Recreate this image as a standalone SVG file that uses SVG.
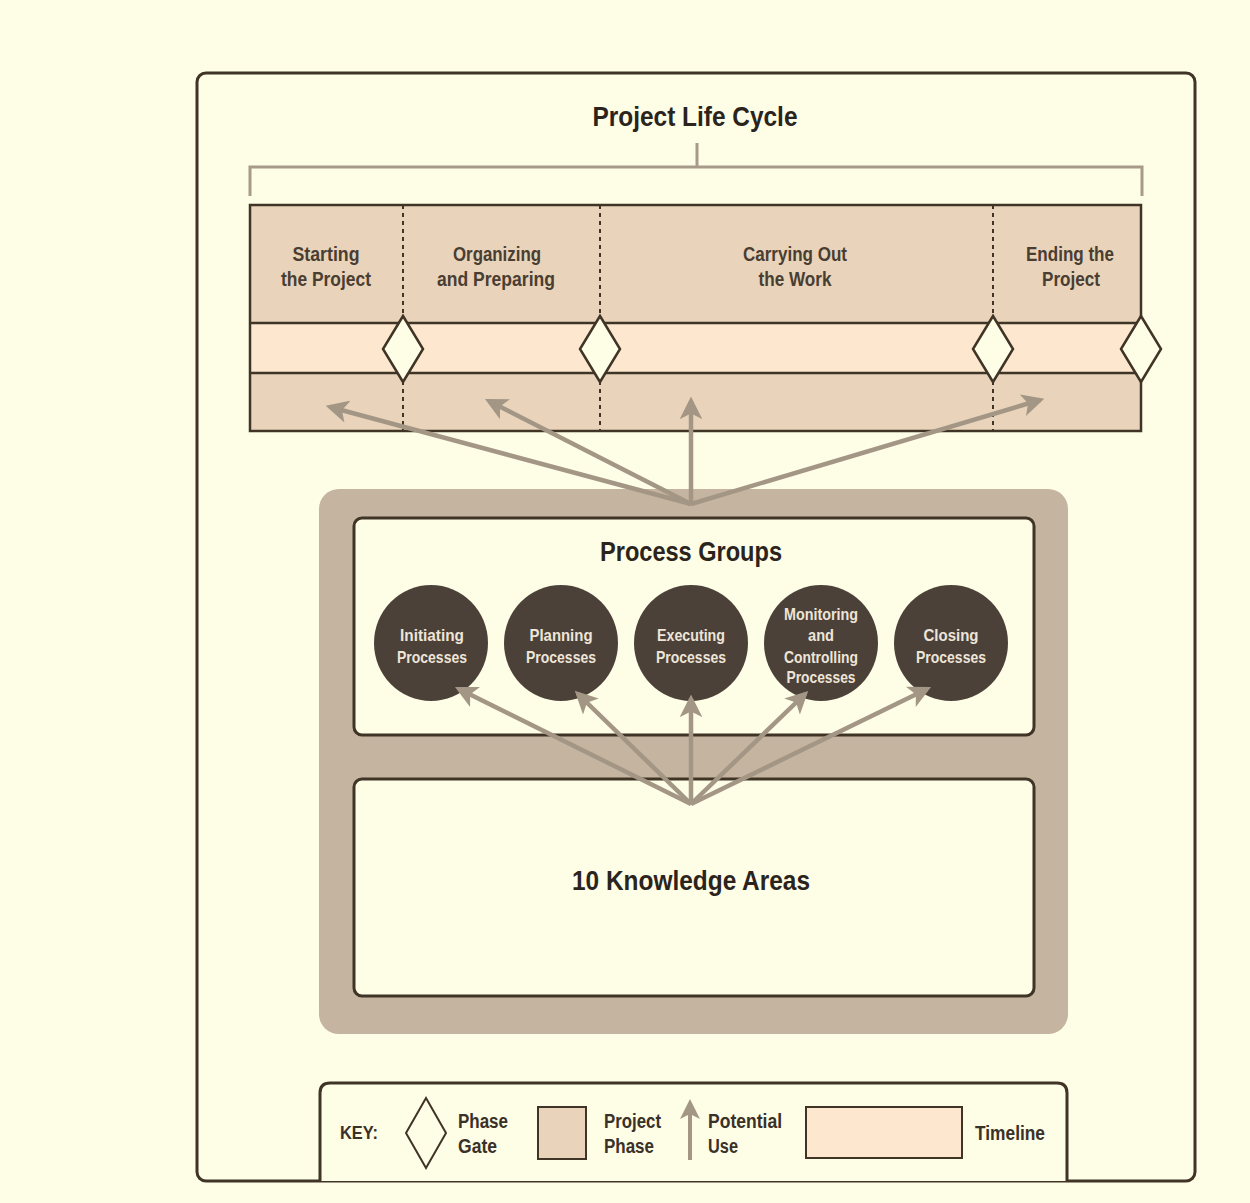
<svg xmlns="http://www.w3.org/2000/svg" width="1250" height="1203" viewBox="0 0 1250 1203">
<defs>
<style>
.t{font-family:"Liberation Sans Narrow","Liberation Sans",Arial,sans-serif;font-weight:bold;text-anchor:middle}
.title{font-size:27px;fill:#2b241c}
.ph{font-size:20px;fill:#4a3e32}
.ct{font-size:16.5px;fill:#eee5d8}
.key{font-size:20px;fill:#3a3128;text-anchor:start}
.dark{stroke:#3f3426;stroke-width:2.5}
.phase{fill:#e9d4bb}
.tl{fill:#fde8cf}
.gate{fill:#fefde6;stroke:#3f3426;stroke-width:2.5}
.dot{stroke:#3f3426;stroke-width:2;stroke-dasharray:4 4}
.arr{stroke:#a39685;stroke-width:4.5;fill:none;marker-end:url(#ah)}
.circ{fill:#4b4139}
</style>
<marker id="ah" viewBox="0 0 10 10" refX="8" refY="5" markerWidth="5" markerHeight="5" orient="auto" markerUnits="strokeWidth">
<path d="M0,0 L10,5 L0,10 L2.5,5 Z" fill="#a39685"/>
</marker>
</defs>
<rect width="1250" height="1203" fill="#fefde6"/>
<rect x="197" y="73" width="998" height="1108" rx="9" fill="#fefde6" stroke="#3f3426" stroke-width="3"/>

<g id="life-cycle">
<text class="t title" x="695" y="126" textLength="205" lengthAdjust="spacingAndGlyphs">Project Life Cycle</text>
<path d="M250,196 V167 H1142 V196 M697,143 V167" fill="none" stroke="#a89a88" stroke-width="3"/>
</g>

<g id="phases">
<rect class="phase" x="250" y="205" width="891" height="226"/>
<rect class="tl" x="250" y="323" width="891" height="50"/>
<rect x="250" y="205" width="891" height="226" fill="none" class="dark"/>
<line class="dark" x1="250" y1="323" x2="1141" y2="323"/>
<line class="dark" x1="250" y1="373" x2="1141" y2="373"/>
<line class="dot" x1="403" y1="205" x2="403" y2="431"/>
<line class="dot" x1="600" y1="205" x2="600" y2="431"/>
<line class="dot" x1="993" y1="205" x2="993" y2="431"/>
</g>
<g id="phase-starting"><text class="t ph" x="326" y="261" textLength="67" lengthAdjust="spacingAndGlyphs">Starting</text><text class="t ph" x="326" y="286" textLength="90" lengthAdjust="spacingAndGlyphs">the Project</text></g>
<g id="phase-organizing"><text class="t ph" x="497" y="261" textLength="88" lengthAdjust="spacingAndGlyphs">Organizing</text><text class="t ph" x="496" y="286" textLength="118" lengthAdjust="spacingAndGlyphs">and Preparing</text></g>
<g id="phase-carrying"><text class="t ph" x="795" y="261" textLength="104" lengthAdjust="spacingAndGlyphs">Carrying Out</text><text class="t ph" x="795" y="286" textLength="73" lengthAdjust="spacingAndGlyphs">the Work</text></g>
<g id="phase-ending"><text class="t ph" x="1070" y="261" textLength="88" lengthAdjust="spacingAndGlyphs">Ending the</text><text class="t ph" x="1071" y="286" textLength="58" lengthAdjust="spacingAndGlyphs">Project</text></g>
<g id="gate-1"><path class="gate" d="M403,316 L423,349 L403,382 L383,349 Z"/></g>
<g id="gate-2"><path class="gate" d="M600,316 L620,349 L600,382 L580,349 Z"/></g>
<g id="gate-3"><path class="gate" d="M993,316 L1013,349 L993,382 L973,349 Z"/></g>
<g id="gate-4"><path class="gate" d="M1141,316 L1161,349 L1141,382 L1121,349 Z"/></g>

<g id="pm-framework">
<rect x="319" y="489" width="749" height="545" rx="20" fill="#c5b49f"/>
</g>
<g id="process-groups">
<rect x="354" y="518" width="680" height="217" rx="8" fill="#fefde6" stroke="#3f3426" stroke-width="3"/>
<text class="t title" x="691" y="561" textLength="182" lengthAdjust="spacingAndGlyphs">Process Groups</text>
</g>
<g id="initiating"><ellipse class="circ" cx="431" cy="643" rx="57" ry="58"/><text class="t ct" x="432" y="641" textLength="64" lengthAdjust="spacingAndGlyphs">Initiating</text><text class="t ct" x="432" y="663" textLength="70" lengthAdjust="spacingAndGlyphs">Processes</text></g>
<g id="planning"><ellipse class="circ" cx="561" cy="643" rx="57" ry="58"/><text class="t ct" x="561" y="641" textLength="63" lengthAdjust="spacingAndGlyphs">Planning</text><text class="t ct" x="561" y="663" textLength="70" lengthAdjust="spacingAndGlyphs">Processes</text></g>
<g id="executing"><ellipse class="circ" cx="691" cy="643" rx="57" ry="58"/><text class="t ct" x="691" y="641" textLength="68" lengthAdjust="spacingAndGlyphs">Executing</text><text class="t ct" x="691" y="663" textLength="70" lengthAdjust="spacingAndGlyphs">Processes</text></g>
<g id="monitoring"><ellipse class="circ" cx="821" cy="643" rx="57" ry="58"/><text class="t ct" x="821" y="620" textLength="74" lengthAdjust="spacingAndGlyphs">Monitoring</text><text class="t ct" x="821" y="641" textLength="26" lengthAdjust="spacingAndGlyphs">and</text><text class="t ct" x="821" y="663" textLength="74" lengthAdjust="spacingAndGlyphs">Controlling</text><text class="t ct" x="821" y="683" textLength="69" lengthAdjust="spacingAndGlyphs">Processes</text></g>
<g id="closing"><ellipse class="circ" cx="951" cy="643" rx="57" ry="58"/><text class="t ct" x="951" y="641" textLength="55" lengthAdjust="spacingAndGlyphs">Closing</text><text class="t ct" x="951" y="663" textLength="70" lengthAdjust="spacingAndGlyphs">Processes</text></g>

<g id="knowledge-areas">
<rect x="354" y="779" width="680" height="217" rx="8" fill="#fefde6" stroke="#3f3426" stroke-width="3"/>
<text class="t title" x="691" y="890" textLength="238" lengthAdjust="spacingAndGlyphs">10 Knowledge Areas</text>
</g>

<g id="connectors">
<line class="arr" x1="691" y1="504" x2="330" y2="407"/>
<line class="arr" x1="691" y1="504" x2="489" y2="401"/>
<line class="arr" x1="691" y1="504" x2="691" y2="401"/>
<line class="arr" x1="691" y1="504" x2="1040" y2="400"/>
<line class="arr" x1="691" y1="804" x2="459" y2="689"/>
<line class="arr" x1="691" y1="804" x2="578" y2="694"/>
<line class="arr" x1="691" y1="804" x2="691" y2="699"/>
<line class="arr" x1="691" y1="804" x2="805" y2="694"/>
<line class="arr" x1="691" y1="804" x2="927" y2="689"/>
</g>

<g id="key">
<path d="M320,1181 V1093 Q320,1083 330,1083 H1057 Q1067,1083 1067,1093 V1181" fill="#fefde6" stroke="#3f3426" stroke-width="3"/>
<text class="t key" x="340" y="1139" style="font-size:19px" textLength="38" lengthAdjust="spacingAndGlyphs">KEY:</text>
<path d="M426,1098 L446,1133 L426,1168 L406,1133 Z" fill="#fefde6" stroke="#3f3426" stroke-width="2"/>
<text class="t key" x="458" y="1128" textLength="50" lengthAdjust="spacingAndGlyphs">Phase</text>
<text class="t key" x="458" y="1153" textLength="39" lengthAdjust="spacingAndGlyphs">Gate</text>
<rect x="538" y="1107" width="48" height="52" class="phase" stroke="#3f3426" stroke-width="2"/>
<text class="t key" x="604" y="1128" textLength="57" lengthAdjust="spacingAndGlyphs">Project</text>
<text class="t key" x="604" y="1153" textLength="50" lengthAdjust="spacingAndGlyphs">Phase</text>
<line x1="690" y1="1160" x2="690" y2="1103" stroke="#a39685" stroke-width="4" marker-end="url(#ah)"/>
<text class="t key" x="708" y="1128" textLength="74" lengthAdjust="spacingAndGlyphs">Potential</text>
<text class="t key" x="708" y="1153" textLength="30" lengthAdjust="spacingAndGlyphs">Use</text>
<rect x="806" y="1107" width="156" height="51" class="tl" stroke="#3f3426" stroke-width="2"/>
<text class="t key" x="975" y="1140" textLength="70" lengthAdjust="spacingAndGlyphs">Timeline</text>
</g>
</svg>
